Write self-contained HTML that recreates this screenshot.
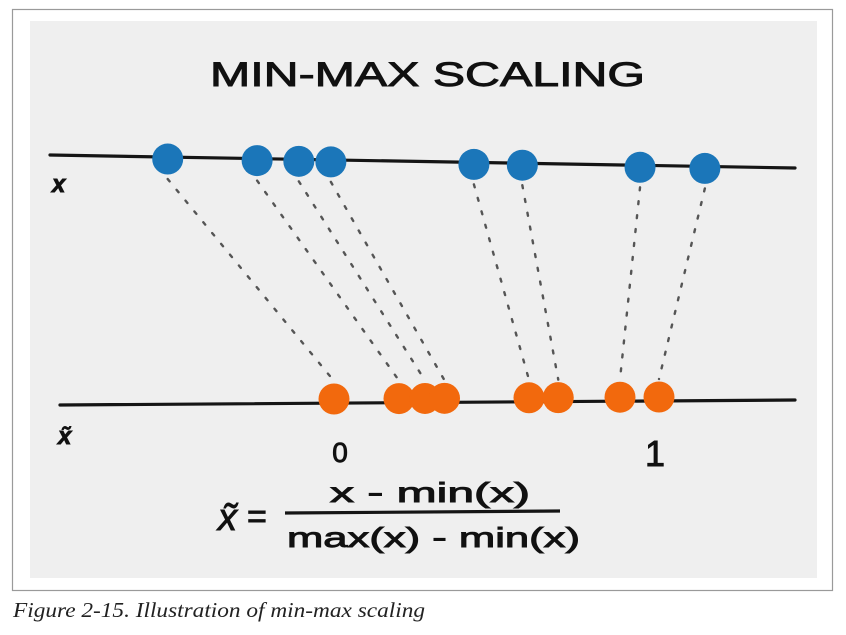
<!DOCTYPE html>
<html>
<head>
<meta charset="utf-8">
<style>
  html,body{margin:0;padding:0;background:#fff;}
  body{width:846px;height:635px;position:relative;overflow:hidden;}
  svg{position:absolute;left:0;top:0;}
  .hand{font-family:"Liberation Sans","DejaVu Sans",sans-serif;fill:#111;stroke:#111;stroke-width:0.9;}
</style>
</head>
<body>
<svg id="chart" width="846" height="635" viewBox="0 0 846 635">
  <rect x="12.5" y="9.5" width="820" height="581" fill="#fff" stroke="#9a9a9a" stroke-width="1.2"/>
  <rect x="30" y="21" width="787" height="557" fill="#efefef"/>
  <text x="210" y="86" textLength="435" lengthAdjust="spacingAndGlyphs" class="hand" font-size="34" stroke-width="1.2">MIN-MAX SCALING</text>

  <line x1="50" y1="155" x2="795" y2="168" stroke="#151515" stroke-width="3.2" stroke-linecap="round"/>
  <line x1="60" y1="405" x2="795" y2="400" stroke="#151515" stroke-width="3.2" stroke-linecap="round"/>

  <text x="52" y="192" class="hand" font-size="24" font-style="italic" font-weight="bold">x</text>
  <text x="58" y="444" class="hand" font-size="24" font-style="italic" font-weight="bold">x̃</text>
  <text x="340" y="462" text-anchor="middle" class="hand" font-size="28">0</text>
  <text x="655" y="466" text-anchor="middle" class="hand" font-size="36" stroke-width="1.5">1</text>

  <g>
    <text x="218" y="530" class="hand" font-size="38" font-style="italic">x̃</text>
    <text x="247" y="528" class="hand" font-size="34">=</text>
    <text x="330" y="502" textLength="200" lengthAdjust="spacingAndGlyphs" class="hand" font-size="28">x - min(x)</text>
    <line x1="285" y1="513" x2="560" y2="511" stroke="#151515" stroke-width="3.2"/>
    <text x="287" y="547" textLength="293" lengthAdjust="spacingAndGlyphs" class="hand" font-size="28">max(x) - min(x)</text>
  </g>

  <g id="links"></g>
  <g id="dots"></g>

  <text x="13" y="617" textLength="412" lengthAdjust="spacingAndGlyphs" font-family="'Liberation Serif',serif" font-style="italic" font-size="21" fill="#222">Figure 2-15. Illustration of min-max scaling</text>
</svg>
<script>
// raw feature values (axis 0..10 across the top line)
const rawValues = [1.58, 2.78, 3.34, 3.77, 5.69, 6.34, 7.92, 8.79];
// scaled values (0..1)
const scaledValues = [0.0, 0.20, 0.28, 0.34, 0.60, 0.69, 0.88, 1.0];

const NS = "http://www.w3.org/2000/svg";
function xTop(v){ return 50 + v/10*745; }
function yTop(v){ return 155 + v/10*13 + 2; }
function xBot(s){ return 334 + s*325; }
function yBot(s){ return 399 - s*2; }

const links = document.getElementById('links');
const dots = document.getElementById('dots');
for (let i = 0; i < rawValues.length; i++) {
  const x1 = xTop(rawValues[i]), y1 = yTop(rawValues[i]) + 20;
  const x2 = xBot(scaledValues[i]), y2 = yBot(scaledValues[i]) - 18;
  const l = document.createElementNS(NS, 'line');
  l.setAttribute('x1', x1); l.setAttribute('y1', y1);
  l.setAttribute('x2', x2); l.setAttribute('y2', y2);
  l.setAttribute('stroke', '#555');
  l.setAttribute('stroke-width', '2.4');
  l.setAttribute('stroke-dasharray', '3 11');
  l.setAttribute('stroke-linecap', 'round');
  
  
  links.appendChild(l);
}
for (let i = 0; i < rawValues.length; i++) {
  const c = document.createElementNS(NS, 'circle');
  c.setAttribute('cx', xTop(rawValues[i]));
  c.setAttribute('cy', yTop(rawValues[i]));
  c.setAttribute('r', 15.5);
  c.setAttribute('fill', '#1b76b9');
  
  
  dots.appendChild(c);
}
for (let i = 0; i < scaledValues.length; i++) {
  const c = document.createElementNS(NS, 'circle');
  c.setAttribute('cx', xBot(scaledValues[i]));
  c.setAttribute('cy', yBot(scaledValues[i]));
  c.setAttribute('r', 15.5);
  c.setAttribute('fill', '#f2690d');
  
  
  dots.appendChild(c);
}
</script>
</body>
</html>
